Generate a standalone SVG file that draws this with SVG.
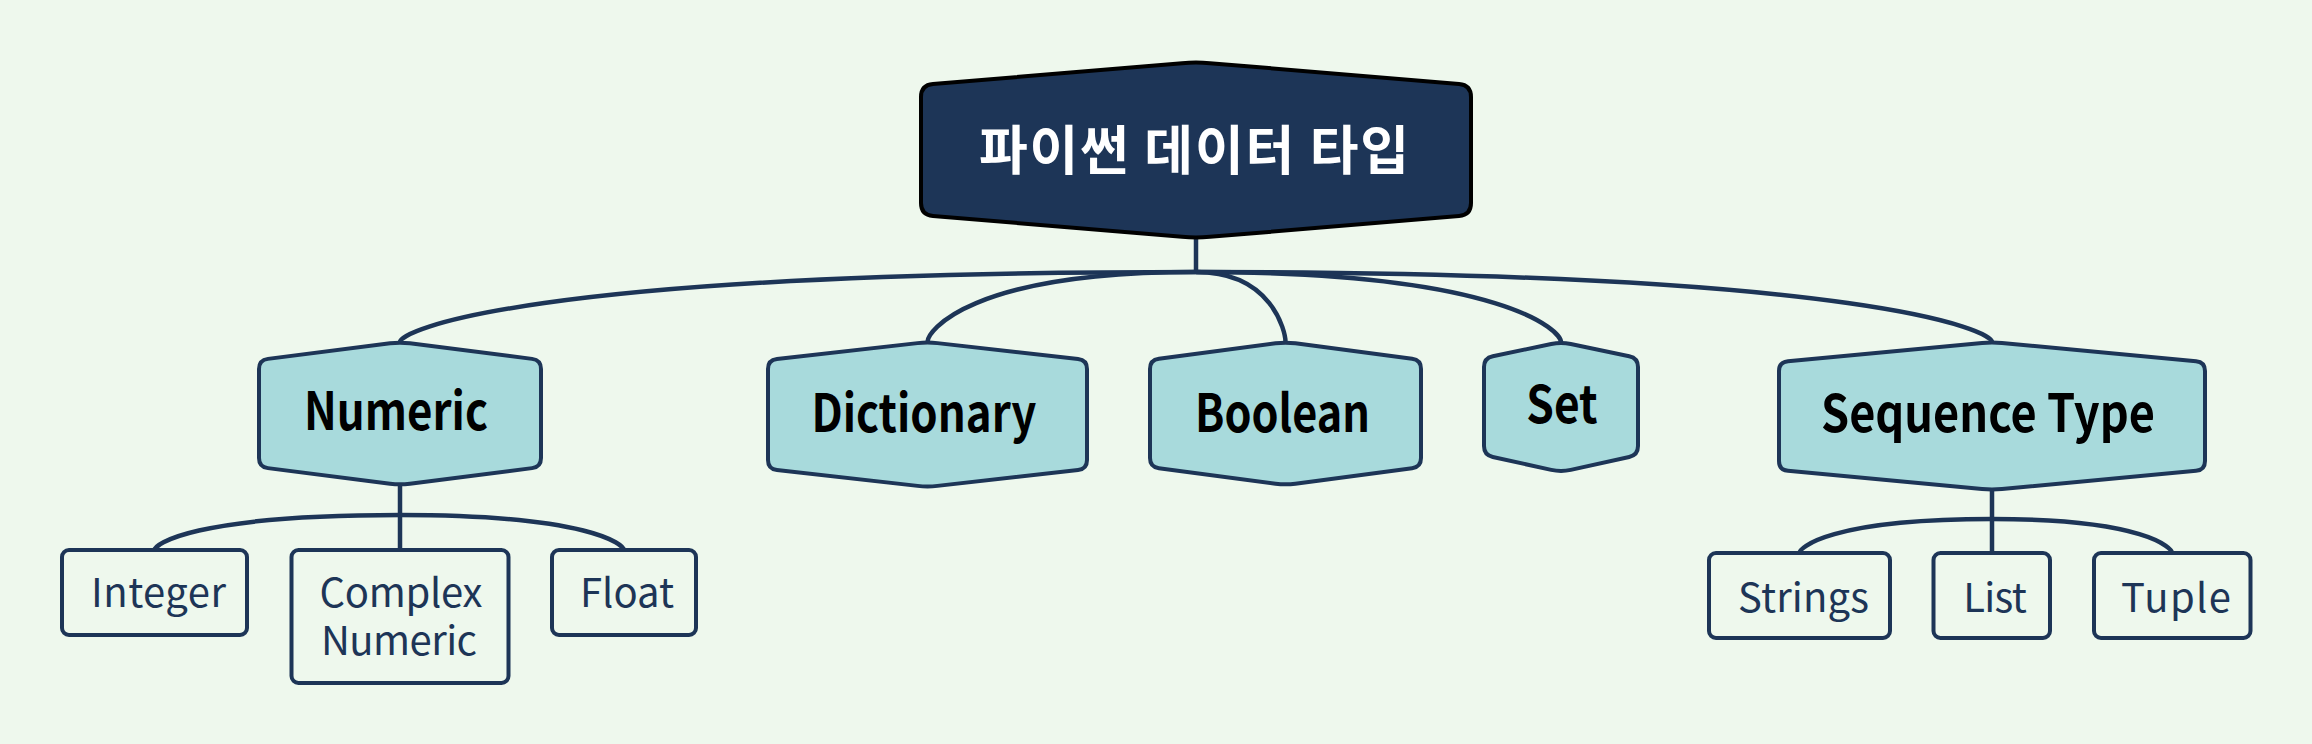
<svg xmlns="http://www.w3.org/2000/svg" width="2312" height="744" viewBox="0 0 2312 744">
<style>
.bg{fill:#EEF8ED}
.conn{fill:none;stroke:#1D3557;stroke-width:4.5}
.root{fill:#1D3557;stroke:#000;stroke-width:4}
.main{fill:#A8DADC;stroke:#1D3557;stroke-width:4}
.sub{fill:none;stroke:#1D3557;stroke-width:4}
.t-root{font-family:"Noto Sans CJK KR","Noto Sans",sans-serif;font-weight:700;font-size:53px;fill:#FFFFFF;text-anchor:middle}
.t-main{font-family:"Noto Sans CJK KR","Noto Sans",sans-serif;font-weight:700;font-size:52px;fill:#000000;text-anchor:middle}
.t-sub{font-family:"Noto Sans CJK KR","Noto Sans",sans-serif;font-weight:400;font-size:40px;fill:#1D3557;text-anchor:middle}
</style>
<rect class="bg" x="0" y="0" width="2312" height="744"/>
<g id="connectors">
<path class="conn" d="M1196 238V272"/>
<path class="conn" d="M1196 272C519.4 272 400 331.5 400 342"/>
<path class="conn" d="M1196 272C967.8 272 927.5 331.5 927.5 342"/>
<path class="conn" d="M1196 272C1272.1 272 1285.5 331.5 1285.5 342"/>
<path class="conn" d="M1196 272C1506.25 272 1561 331.5 1561 342"/>
<path class="conn" d="M1196 272C1872.6 272 1992 331.5 1992 342"/>
<path class="conn" d="M400 485V550"/>
<path class="conn" d="M400 515C191.3 515 154.5 544.75 154.5 550"/>
<path class="conn" d="M400 515C590.2 515 623.8 544.75 623.8 550"/>
<path class="conn" d="M1992 490V553"/>
<path class="conn" d="M1992 519C1828.4 519 1799.5 547.9 1799.5 553"/>
<path class="conn" d="M1992 519C2145 519 2172 547.9 2172 553"/>
</g>
<g id="root">
<path class="root" d="M1209.95 63.17L1459.04 84Q1471 85 1471 97L1471 203Q1471 215 1459.04 216L1209.95 236.83Q1196 238 1182.05 236.83L932.96 216Q921 215 921 203L921 97Q921 85 932.96 84L1182.05 63.17Q1196 62 1209.95 63.17Z"/>
<text class="t-root" x="1194" y="170" textLength="430" lengthAdjust="spacing">파이썬 데이터 타입</text>
</g>
<g id="numeric">
<path class="main" d="M409.92 343.27L532.07 358.86Q541 360 541 369L541 458Q541 467 532.07 468.14L409.92 483.73Q400 485 390.08 483.73L267.93 468.14Q259 467 259 458L259 369Q259 360 267.93 358.86L390.08 343.27Q400 342 409.92 343.27Z"/>
<text class="t-main" x="396" y="430" textLength="184" lengthAdjust="spacingAndGlyphs">Numeric</text>
</g>
<g id="dictionary">
<path class="main" d="M937.44 343.12L1078.06 358.99Q1087 360 1087 369L1087 460Q1087 469 1078.06 470.01L937.44 485.88Q927.5 487 917.56 485.88L776.94 470.01Q768 469 768 460L768 369Q768 360 776.94 358.99L917.56 343.12Q927.5 342 937.44 343.12Z"/>
<text class="t-main" x="924" y="432" textLength="225" lengthAdjust="spacingAndGlyphs">Dictionary</text>
</g>
<g id="boolean">
<path class="main" d="M1295.41 343.32L1412.08 358.81Q1421 360 1421 369L1421 458Q1421 467 1412.08 468.19L1295.41 483.68Q1285.5 485 1275.59 483.68L1158.92 468.19Q1150 467 1150 458L1150 369Q1150 360 1158.92 358.81L1275.59 343.32Q1285.5 342 1295.41 343.32Z"/>
<text class="t-main" x="1282.5" y="432" textLength="175" lengthAdjust="spacingAndGlyphs">Boolean</text>
</g>
<g id="set">
<path class="main" d="M1570.79 344.03L1629.19 356.17Q1638 358 1638 367L1638 446Q1638 455 1629.21 456.94L1570.77 469.84Q1561 472 1551.23 469.84L1492.79 456.94Q1484 455 1484 446L1484 367Q1484 358 1492.81 356.17L1551.21 344.03Q1561 342 1570.79 344.03Z"/>
<text class="t-main" x="1562" y="423" textLength="71.5" lengthAdjust="spacingAndGlyphs">Set</text>
</g>
<g id="sequence">
<path class="main" d="M2001.96 342.93L2196.04 361.16Q2205 362 2205 371L2205 461Q2205 470 2196.04 470.84L2001.96 489.07Q1992 490 1982.04 489.07L1787.96 470.84Q1779 470 1779 461L1779 371Q1779 362 1787.96 361.16L1982.04 342.93Q1992 342 2001.96 342.93Z"/>
<text class="t-main" x="1988" y="432" textLength="334" lengthAdjust="spacingAndGlyphs">Sequence Type</text>
</g>
<g id="integer">
<rect class="sub" x="62" y="550" width="185" height="85" rx="7"/>
<text class="t-sub" x="158.5" y="607" textLength="135" lengthAdjust="spacing">Integer</text>
</g>
<g id="complex">
<rect class="sub" x="291.5" y="550" width="217" height="133" rx="7"/>
<text class="t-sub" x="401" y="607" textLength="163" lengthAdjust="spacing">Complex</text>
<text class="t-sub" x="399" y="655" textLength="156" lengthAdjust="spacing">Numeric</text>
</g>
<g id="float">
<rect class="sub" x="552" y="550" width="144" height="85" rx="7"/>
<text class="t-sub" x="627" y="607" textLength="94" lengthAdjust="spacing">Float</text>
</g>
<g id="strings">
<rect class="sub" x="1709" y="553" width="181" height="85" rx="7"/>
<text class="t-sub" x="1803.5" y="612" textLength="131" lengthAdjust="spacing">Strings</text>
</g>
<g id="list">
<rect class="sub" x="1933.5" y="553" width="116.5" height="85" rx="7"/>
<text class="t-sub" x="1995" y="612" textLength="63.5" lengthAdjust="spacing">List</text>
</g>
<g id="tuple">
<rect class="sub" x="2094" y="553" width="156.5" height="85" rx="7"/>
<text class="t-sub" x="2176" y="612" textLength="110" lengthAdjust="spacing">Tuple</text>
</g>
</svg>
